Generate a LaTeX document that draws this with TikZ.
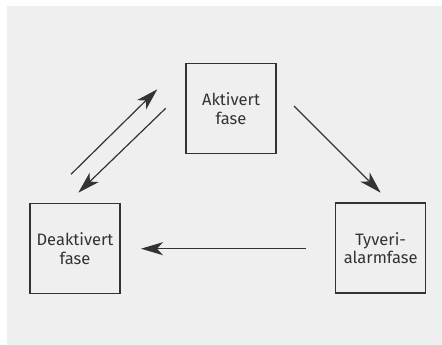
\documentclass[tikz,border=0pt]{standalone}
\usepackage{fontspec}
\setmainfont{Fira Sans}
\usetikzlibrary{arrows.meta}
\definecolor{bg}{HTML}{EFEFEF}
\definecolor{ink}{HTML}{333333}
\begin{document}
\begin{tikzpicture}[x=1pt,y=-1pt,
  phase/.style={draw=ink,line width=1.3pt,minimum width=90pt,minimum height=90pt,
    inner sep=0pt,align=center,text=ink,font=\fontsize{16.5}{18.5}\selectfont},
  conn/.style={draw=ink,line width=1.2pt,-{Stealth[length=22pt,width=13pt,inset=6pt]}}]
\useasboundingbox (0,0) rectangle (442,345);
\fill[white] (0,0) rectangle (442,345);
\fill[bg] (7,6) rectangle (442,345);
\node[phase] (akt) at (231,108.6) {Aktivert\\fase};
\node[phase] (deakt) at (75,248.8) {Deaktivert\\fase};
\node[phase] (tyv) at (380.7,248) {Tyveri-\\alarmfase};
\coordinate (a1s) at (71,174.3);
\coordinate (a1e) at (157.3,89.3);
\coordinate (a2s) at (165.7,108.3);
\coordinate (a2e) at (78.3,192.7);
\coordinate (a3s) at (294,106);
\coordinate (a3e) at (380.7,192.7);
\coordinate (a4s) at (305.7,248.7);
\coordinate (a4e) at (141,248.7);
\draw[conn] (a1s) -- (a1e);
\draw[conn] (a2s) -- (a2e);
\draw[conn] (a3s) -- (a3e);
\draw[conn] (a4s) -- (a4e);
\end{tikzpicture}
\end{document}
